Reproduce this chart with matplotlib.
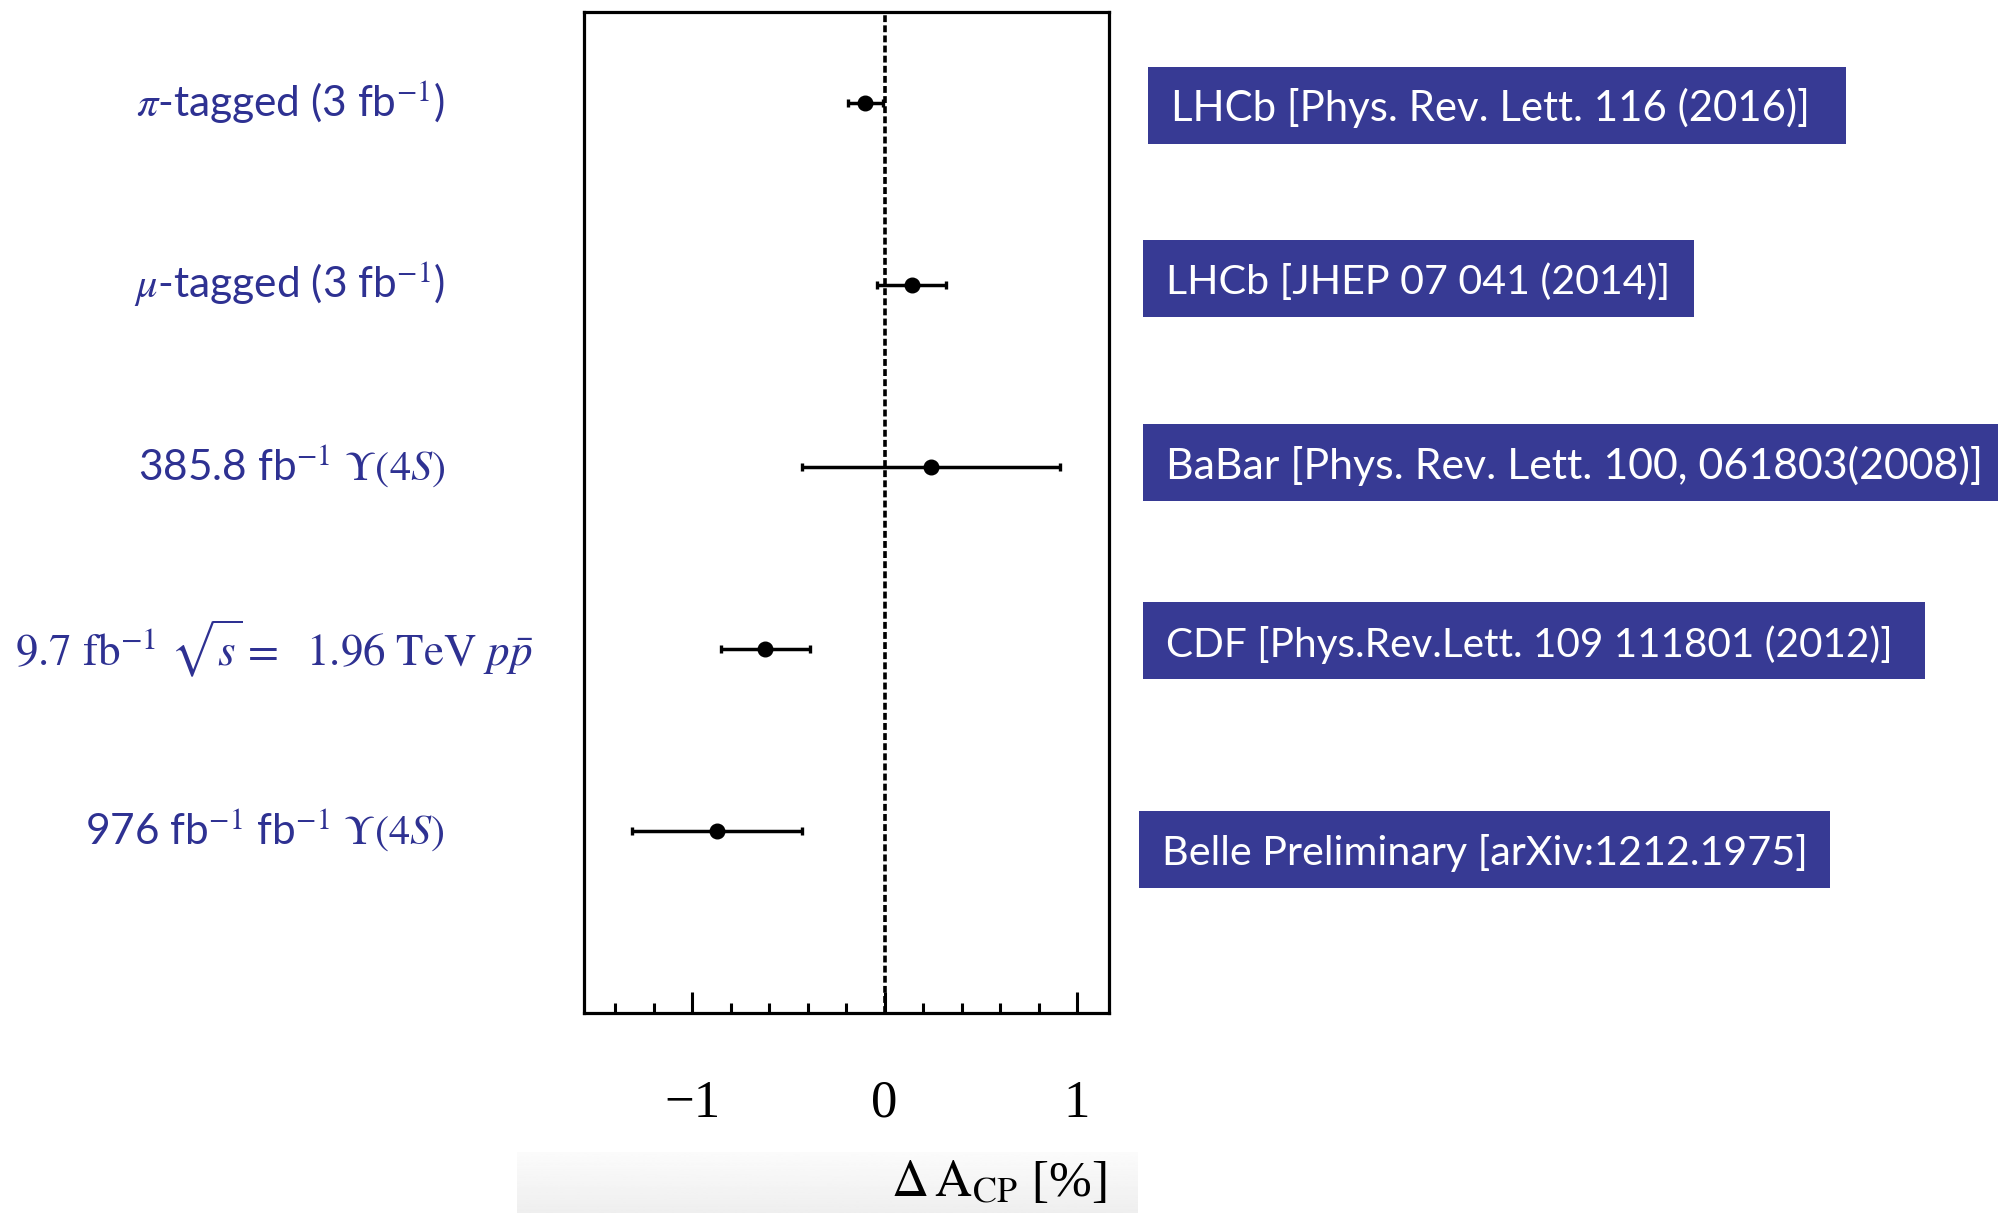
'''
Delta A_CP comparison: measurements with error bars and reference boxes
'''
import numpy as np
import matplotlib
matplotlib.use('Agg')
import matplotlib.pyplot as plt
import matplotlib.transforms as mtransforms
from matplotlib.patches import Rectangle
from matplotlib.ticker import MultipleLocator

plt.rcParams['mathtext.fontset'] = 'stix'

#%% data, top to bottom
labels = [r'$\pi$-tagged (3 fb$^{-1}$)',
          r'$\mu$-tagged (3 fb$^{-1}$)',
          r'385.8 fb$^{-1}$ $\Upsilon(4S)$',
          r'$9.7\ \mathrm{fb}^{-1}\ \sqrt{s} =\ \ 1.96\ \mathrm{TeV}\ p\bar{p}$',
          r'976 fb$^{-1}$ fb$^{-1}$ $\Upsilon(4S)$']
refs = ['LHCb [Phys. Rev. Lett. 116 (2016)]',
        'LHCb [JHEP 07 041 (2014)]',
        'BaBar [Phys. Rev. Lett. 100, 061803(2008)]',
        'CDF [Phys.Rev.Lett. 109 111801 (2012)]',
        'Belle Preliminary [arXiv:1212.1975]']
dacp = [-0.10, 0.14, 0.24, -0.62, -0.87]
dacp_err = [0.09, 0.18, 0.67, 0.23, 0.44]
ypos = [5, 4, 3, 2, 1]
major_ticks = [-1, 0, 1]
tick_labels = ['\u22121', '0', '1']

#%% layout (pixels of the 1998x1213 canvas)
W, H = 1998, 1213
# (x, horizontal alignment, font size) per left label
label_place = [(445, 'right', 30.5), (445, 'right', 30.5), (445, 'right', 30.5),
               (15, 'left', 32.4), (445, 'right', 30.5)]
boxes = [(1148, 67.5, 1846, 144), (1143, 240, 1694, 316.7),
         (1143, 424, 1998, 501), (1143, 602, 1925, 679),
         (1139, 811, 1830, 888)]
box_font = [30.2, 29.6, 30.9, 29.2, 29.7]
blue_text = '#2E3192'
blue_box = '#373A94'

fig = plt.figure(figsize=(W / 100, H / 100), dpi=100)

# light grey band behind the axis title
band = fig.add_axes([517 / W, 0, (1138 - 517) / W, (1213 - 1152) / H], zorder=-1)
band.imshow(np.linspace(0.985, 0.935, 64).reshape(-1, 1), aspect='auto',
            cmap='gray', vmin=0, vmax=1)
band.axis('off')

ax = fig.add_axes([583.6 / W, 1 - 1013 / H, (1108.6 - 583.6) / W, (1013 - 12) / H])
ax.axvline(0, color='black', lw=2.6, linestyle=(0, (1.9, 0.9)), zorder=1)
ax.errorbar(dacp, ypos, xerr=dacp_err, fmt='o', color='black', ms=10.5,
            elinewidth=2.5, capsize=2.6, capthick=2.4, zorder=3)

ax.set_xlim(-1.564, 1.164)
ax.set_ylim(0, 5.5)
ax.set_yticks([])
ax.set_xticks(major_ticks, labels=tick_labels, fontfamily='Liberation Serif', fontsize=38)
ax.xaxis.set_minor_locator(MultipleLocator(0.2))
ax.tick_params(axis='x', which='major', direction='in', length=15, width=2.2, pad=48)
ax.tick_params(axis='x', which='minor', direction='in', length=7, width=2.2)
for sp in ax.spines.values():
    sp.set_linewidth(2.3)

fig.text(1106 / W, 1 - 1197 / H, r'$\Delta\,\mathrm{A}_{\mathrm{CP}}$ [%]',
         ha='right', va='baseline', fontsize=37, family='Liberation Serif')

# left side labels, aligned to the data rows
trans = mtransforms.blended_transform_factory(fig.transFigure, ax.transData)
for lab, y, (xp, ha, fs) in zip(labels, ypos, label_place):
    ax.text(xp / W, y, lab, transform=trans, ha=ha, va='center',
            fontsize=fs, family='Lato', color=blue_text)

# reference boxes
for ref, (x0, y0, x1, y1), fs in zip(refs, boxes, box_font):
    fig.patches.append(Rectangle((x0 / W, 1 - y1 / H), (x1 - x0) / W, (y1 - y0) / H,
                                 transform=fig.transFigure, facecolor=blue_box,
                                 edgecolor='none'))
    fig.text((x0 + 23) / W, 1 - (y1 - 22.5) / H, ref, ha='left', va='baseline',
             fontsize=fs, family='Lato', color='white')

fig.savefig('out.png', dpi=100)
